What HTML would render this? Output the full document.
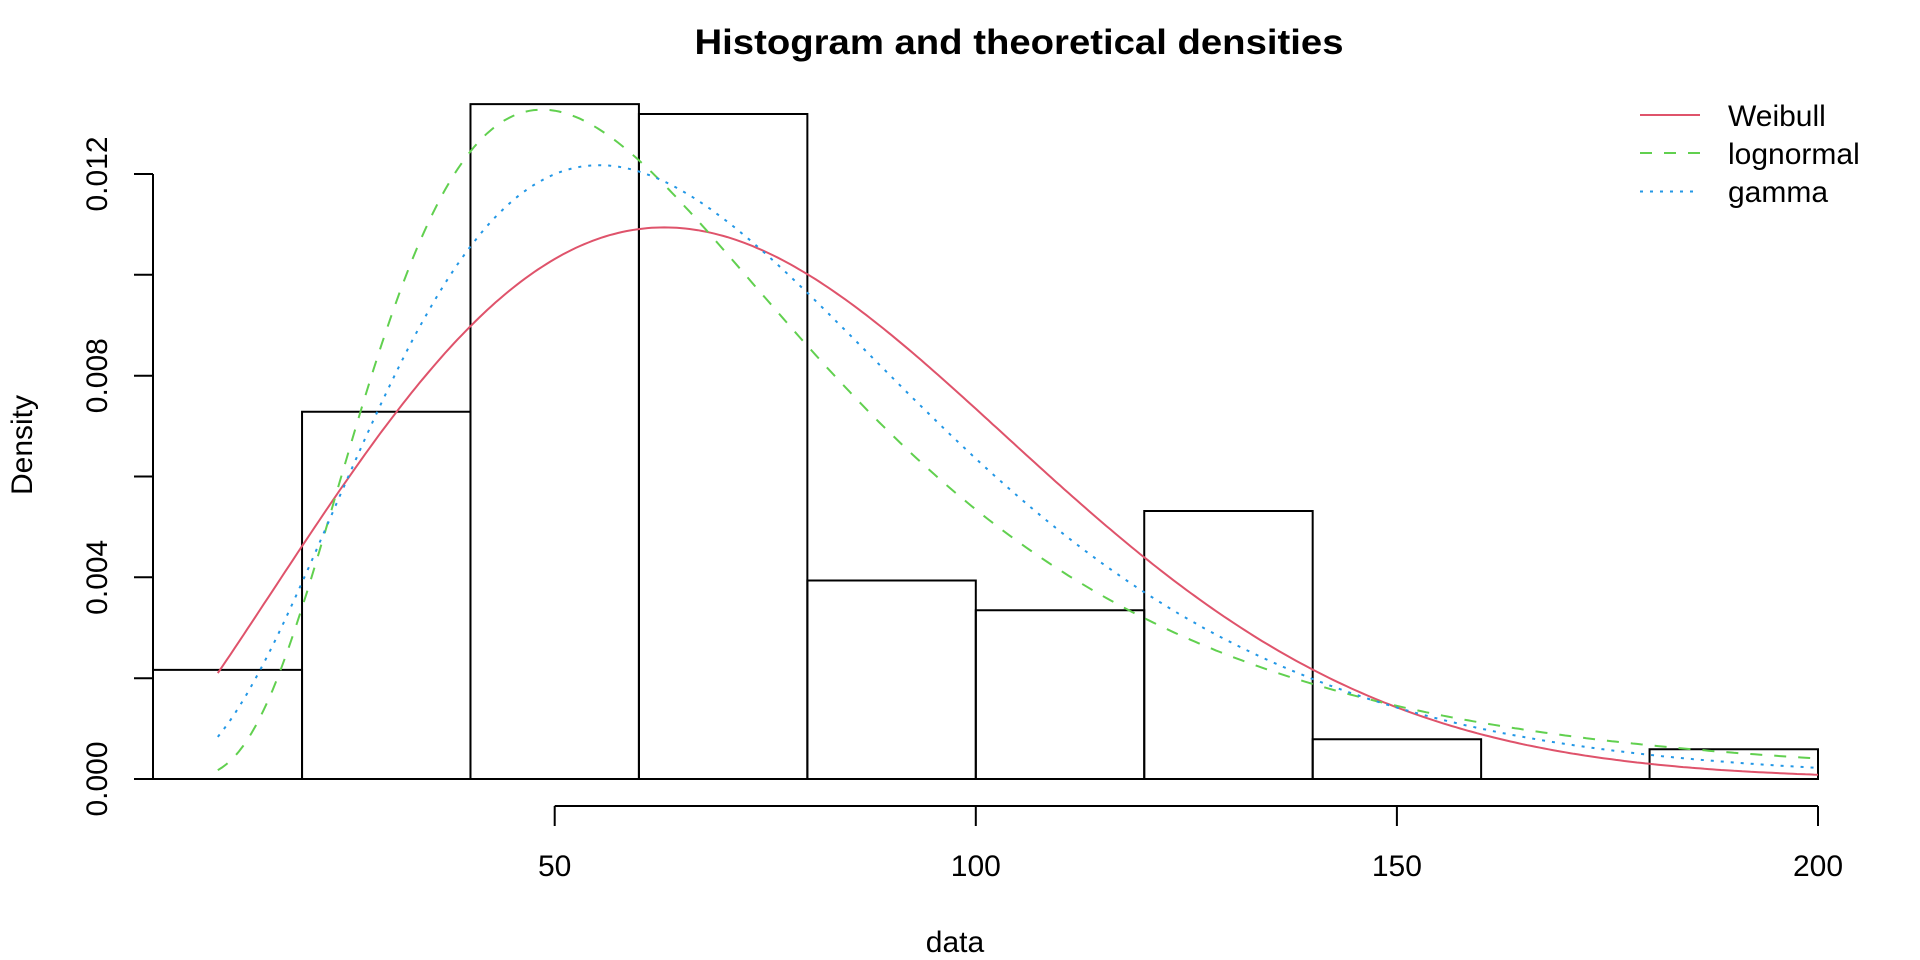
<!DOCTYPE html>
<html><head><meta charset="utf-8"><style>
html,body{margin:0;padding:0;background:#fff;}
svg{display:block;font-family:"Liberation Sans",Arial,sans-serif;}
</style></head><body>
<svg id="s" width="1920" height="960" viewBox="0 0 1920 960" xmlns="http://www.w3.org/2000/svg">
<rect width="1920" height="960" fill="#fff"/>
<text x="1019" y="54" font-size="35" font-weight="bold" text-anchor="middle" textLength="649" lengthAdjust="spacingAndGlyphs">Histogram and theoretical densities</text>
<defs><clipPath id="c"><rect x="152" y="60" width="1738" height="760"/></clipPath></defs>
<g id="bars" clip-path="url(#c)" fill="none" stroke="#000" stroke-width="2"></g>
<g id="curves" clip-path="url(#c)" fill="none" stroke-width="2"></g>
<g stroke="#000" stroke-width="2" fill="none">
<path d="M153 174V779"/>
<path d="M134 779H153M134 678.2H153M134 577.3H153M134 476.5H153M134 375.7H153M134 274.8H153M134 174H153"/>
<path d="M554.7 806H1818M554.7 806V826M975.8 806V826M1396.9 806V826M1818 806V826"/>
</g>
<g font-size="30" text-anchor="middle">
<text x="554.7" y="876">50</text><text x="975.8" y="876">100</text><text x="1396.9" y="876">150</text><text x="1818" y="876">200</text>
<text x="955" y="952">data</text>
<text transform="translate(107,779) rotate(-90)">0.000</text>
<text transform="translate(107,577.3) rotate(-90)">0.004</text>
<text transform="translate(107,375.7) rotate(-90)">0.008</text>
<text transform="translate(107,174) rotate(-90)">0.012</text>
<text transform="translate(32,445) rotate(-90)">Density</text>
</g>
<g stroke-width="2">
<line x1="1640" y1="115" x2="1700" y2="115" stroke="#DF536B"/>
<line x1="1640" y1="153" x2="1700" y2="153" stroke="#61D04F" stroke-dasharray="12 12"/>
<line x1="1640" y1="191.5" x2="1700" y2="191.5" stroke="#2297E6" stroke-dasharray="3 7"/>
</g>
<g font-size="30">
<text x="1728" y="126">Weibull</text>
<text x="1728" y="164">lognormal</text>
<text x="1728" y="202">gamma</text>
</g>
</svg>
<script>
(function(){
var NS="http://www.w3.org/2000/svg";
function X(v){return 554.7+(v-50)*8.422;}
function Y(d){return 779-d*50417;}
var counts=[11,37,68,67,20,17,27,4,0,3];
var g=document.getElementById('bars');
for(var i=0;i<10;i++){
 var d=counts[i]/5080, x0=X(i*20), x1=X(i*20+20);
 var p=document.createElementNS(NS,'path');
 p.setAttribute('d','M'+x0+' 779V'+Y(d)+'H'+x1+'V779Z');
 g.appendChild(p);
}
function lgam(z){var c=[76.18009172947146,-86.50532032941677,24.01409824083091,-1.231739572450155,0.1208650973866179e-2,-0.5395239384953e-5];
 var x=z,y=z,t=x+5.5;t-=(x+0.5)*Math.log(t);var s=1.000000000190015;for(var j=0;j<6;j++)s+=c[j]/++y;return -t+Math.log(2.5066282746310005*s/x);}
var k=2.185885,lam=83.347679,mu=4.16934,sg=0.53656,sh=4.00825,rt=0.05441;
function wb(x){return k/lam*Math.pow(x/lam,k-1)*Math.exp(-Math.pow(x/lam,k));}
function ln(x){var z=(Math.log(x)-mu)/sg;return Math.exp(-z*z/2)/(x*sg*Math.sqrt(2*Math.PI));}
function gm(x){return Math.exp(sh*Math.log(rt)+(sh-1)*Math.log(x)-rt*x-lgam(sh));}
var cg=document.getElementById('curves');
[[wb,'#DF536B',''],[ln,'#61D04F','12 12'],[gm,'#2297E6','3 7']].forEach(function(a){
 var s='';for(var v=10;v<=200.001;v+=0.5){s+=(s?'L':'M')+X(v).toFixed(1)+' '+Y(a[0](v)).toFixed(1);}
 var p=document.createElementNS(NS,'path');p.setAttribute('d',s);p.setAttribute('stroke',a[1]);
 if(a[2])p.setAttribute('stroke-dasharray',a[2]);cg.appendChild(p);
});
})();
</script>
</body></html>
